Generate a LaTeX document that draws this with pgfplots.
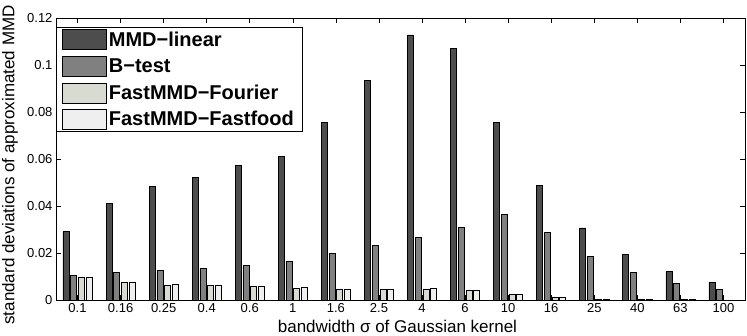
\documentclass[border=0pt]{standalone}
\usepackage{pgfplots}
\pgfplotsset{compat=1.18}
\usepackage{fontspec}
\setmainfont{Liberation Sans}

\definecolor{cLin}{HTML}{4D4D4D}
\definecolor{cBt}{HTML}{808080}
\definecolor{cFour}{HTML}{D7DBD1}
\definecolor{cFood}{HTML}{EFEFEF}

\pgfplotsset{
  mybar/.style={fill=#1, draw=black, line width=0.6pt,
    legend image code/.code={\draw[fill=#1, draw=black, line width=0.6pt] (0pt,-10pt) rectangle (44pt,10pt);}},
}

\begin{document}
\begin{tikzpicture}
\begin{axis}[
scale only axis,
width=689pt, height=282pt,
xmin=-0.5, xmax=15.5,
ymin=0, ymax=0.12,
ybar=1.7pt, bar width=6pt,
xtick={0,...,15},
xticklabels={0.1,0.16,0.25,0.4,0.6,1,1.6,2.5,4,6,10,16,25,40,63,100},
ytick={0,0.02,0.04,0.06,0.08,0.1,0.12},
yticklabels={0,0.02,0.04,0.06,0.08,0.1,0.12},
tick align=inside,
major tick length=5pt,
tick style={black, line width=0.6pt},
axis line style={black, line width=0.6pt},
axis on top,
/pgf/number format/assume math mode=true,
tick label style={font=\fontsize{13}{15}\selectfont},
xlabel={bandwidth σ of Gaussian kernel},
ylabel={standard deviations of approximated MMD},
every axis x label/.style={at={(axis description cs:0.4956,-0.1135)}, anchor=base,
  font=\fontsize{17}{20}\selectfont},
every axis y label/.style={at={(axis description cs:-0.0668,0.479)}, rotate=90, anchor=center,
  font=\fontsize{17}{20}\selectfont},
legend style={at={(0,1)}, anchor=north west, yshift=-9pt,
  draw=black, line width=0.6pt,
  font=\fontsize{20}{23}\bfseries\selectfont,
  inner xsep=6pt, inner ysep=2pt, row sep=6pt},
legend cell align=left,
]
\addplot[mybar=cLin] coordinates {
(0,0.0292)(1,0.0410)(2,0.0482)(3,0.0522)(4,0.0574)(5,0.0611)(6,0.0755)(7,0.0934)
(8,0.1128)(9,0.1071)(10,0.0756)(11,0.0487)(12,0.0307)(13,0.0193)(14,0.0121)(15,0.0075)};
\addlegendentry{MMD−linear}
\addplot[mybar=cBt] coordinates {
(0,0.0105)(1,0.0116)(2,0.0125)(3,0.0134)(4,0.0146)(5,0.0165)(6,0.0197)(7,0.0231)
(8,0.0265)(9,0.0308)(10,0.0365)(11,0.0288)(12,0.0184)(13,0.0116)(14,0.0071)(15,0.0044)};
\addlegendentry{B−test}
\addplot[mybar=cFour] coordinates {
(0,0.0098)(1,0.0074)(2,0.0064)(3,0.0063)(4,0.0058)(5,0.0051)(6,0.0047)(7,0.0045)
(8,0.0047)(9,0.0043)(10,0.0026)(11,0.0013)(12,0.0005)(13,0.0003)(14,0.0001)(15,0.0000)};
\addlegendentry{FastMMD−Fourier}
\addplot[mybar=cFood] coordinates {
(0,0.0096)(1,0.0074)(2,0.0066)(3,0.0064)(4,0.0058)(5,0.0052)(6,0.0047)(7,0.0047)
(8,0.0049)(9,0.0043)(10,0.0026)(11,0.0013)(12,0.0005)(13,0.0003)(14,0.0001)(15,0.0000)};
\addlegendentry{FastMMD−Fastfood}
\end{axis}
\pgfresetboundingbox
\path ([xshift=-56pt,yshift=-35pt]current axis.south west) rectangle ([xshift=2pt,yshift=18pt]current axis.north east);
\end{tikzpicture}
\end{document}
